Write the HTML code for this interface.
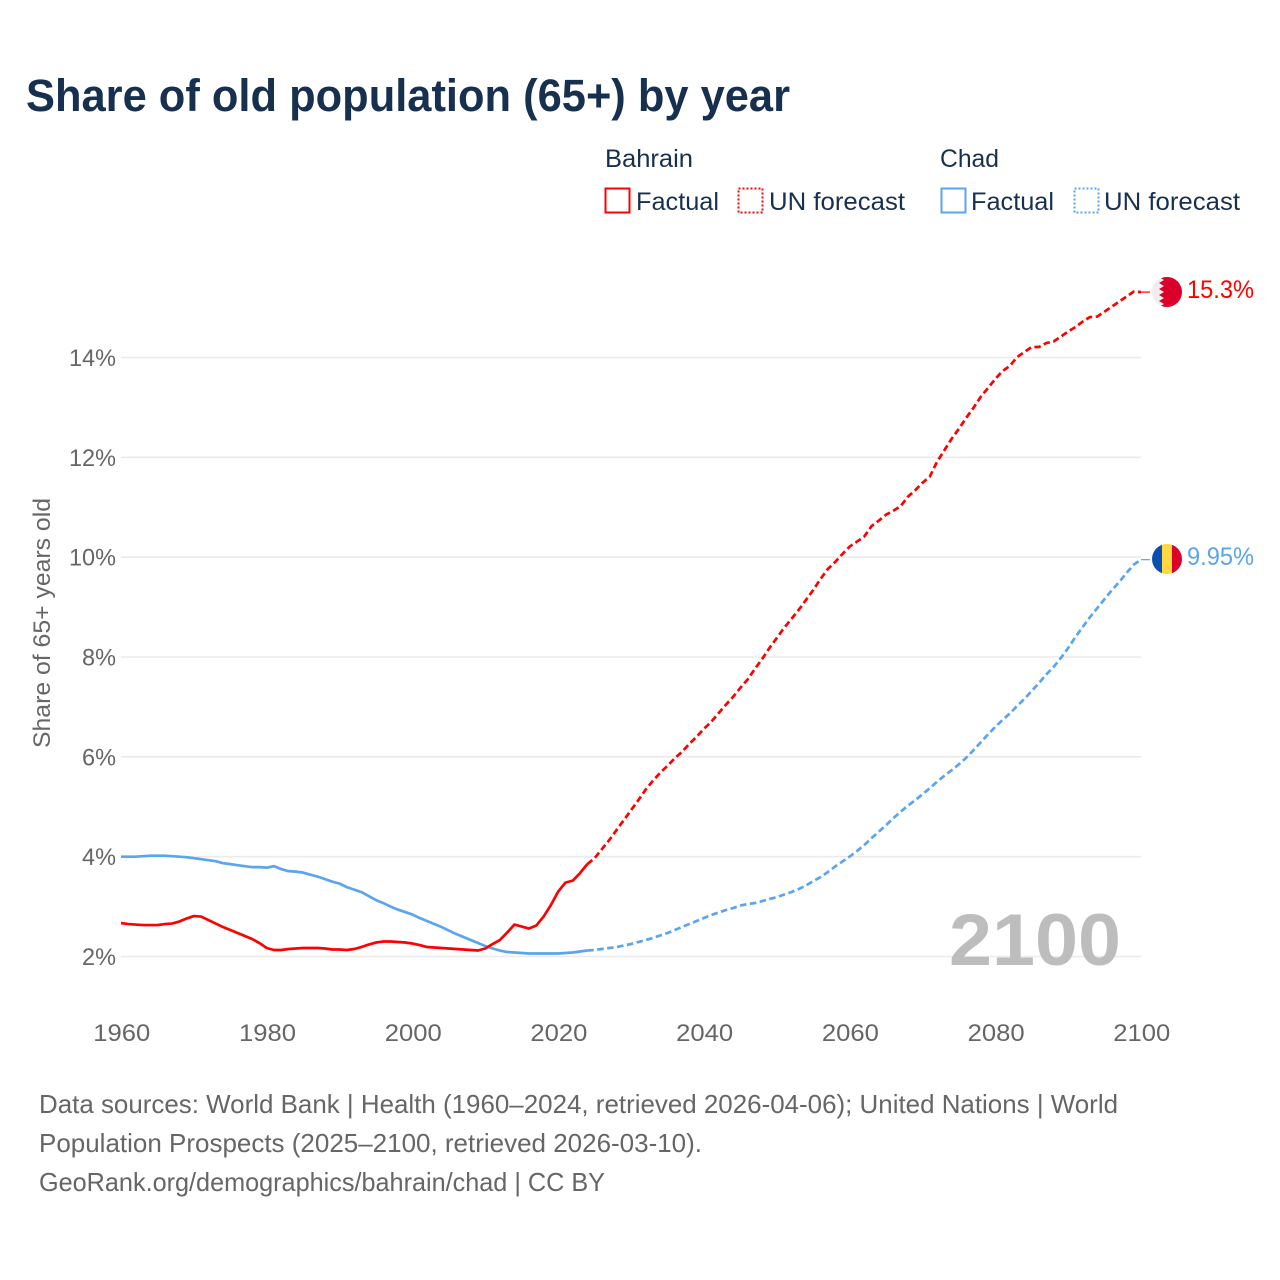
<!DOCTYPE html>
<html lang="en">
<head>
<meta charset="utf-8">
<title>Share of old population (65+) by year</title>
<style>
html,body{margin:0;padding:0;background:#fff;width:1280px;height:1280px;overflow:hidden}
svg{display:block}
text{font-family:"Liberation Sans",sans-serif}
</style>
</head>
<body>
<svg id="chart" xmlns="http://www.w3.org/2000/svg" width="1280" height="1280" viewBox="0 0 1280 1280">
  <rect width="1280" height="1280" fill="#fff"/>
  <text x="26" y="111" font-size="45" font-weight="700" fill="#18304f" textLength="764" lengthAdjust="spacingAndGlyphs">Share of old population (65+) by year</text>

  <g font-size="25" fill="#18304f">
    <text x="605" y="167" textLength="88" lengthAdjust="spacingAndGlyphs">Bahrain</text>
    <text x="940" y="167" textLength="59" lengthAdjust="spacingAndGlyphs">Chad</text>
    <rect x="605.5" y="188.5" width="24" height="24" fill="none" stroke="#ff0000" stroke-width="2"/>
    <text x="636" y="210" textLength="83" lengthAdjust="spacingAndGlyphs">Factual</text>
    <rect x="738.5" y="188.5" width="24" height="24" fill="none" stroke="#ff0000" stroke-width="2" stroke-dasharray="2 2"/>
    <text x="769" y="210" textLength="136" lengthAdjust="spacingAndGlyphs">UN forecast</text>
    <rect x="941.5" y="188.5" width="24" height="24" fill="none" stroke="#5ba4ee" stroke-width="2"/>
    <text x="971" y="210" textLength="83" lengthAdjust="spacingAndGlyphs">Factual</text>
    <rect x="1074.5" y="188.5" width="24" height="24" fill="none" stroke="#5ba4ee" stroke-width="2" stroke-dasharray="2 2"/>
    <text x="1104" y="210" textLength="136" lengthAdjust="spacingAndGlyphs">UN forecast</text>
  </g>

  <g id="grid"></g>
  <g id="yticks"></g>
  <g id="xticks"></g>
  <text transform="translate(50,748) rotate(-90)" font-size="24" fill="#666" textLength="250" lengthAdjust="spacingAndGlyphs">Share of 65+ years old</text>
  <text x="949" y="965" font-size="73" font-weight="700" fill="#bdbdbd" textLength="172" lengthAdjust="spacingAndGlyphs">2100</text>
  <g id="series"></g>

  <defs>
    <clipPath id="flag-clip-bahrain"><circle cx="1167" cy="292" r="15"/></clipPath>
    <clipPath id="flag-clip-chad"><circle cx="1167" cy="559" r="15"/></clipPath>
  </defs>
  <g clip-path="url(#flag-clip-bahrain)">
    <rect x="1152" y="277" width="30" height="30" fill="#eeeeee"/>
    <polygon points="1159,277 1182,277 1182,307 1159,307 1164,304 1159,301 1164,298 1159,295 1164,292 1159,289 1164,286 1159,283 1164,280" fill="#da0029"/>
  </g>
  <g clip-path="url(#flag-clip-chad)">
    <rect x="1152" y="544" width="10" height="30" fill="#0b4fb0"/>
    <rect x="1162" y="544" width="10" height="30" fill="#ffd83d"/>
    <rect x="1172" y="544" width="10" height="30" fill="#da0029"/>
  </g>
  <text id="label-bahrain" x="1187" y="298" font-size="25" fill="#ff0000" textLength="67" lengthAdjust="spacingAndGlyphs">15.3%</text>
  <text id="label-chad" x="1187" y="565" font-size="25" fill="#5ba4ee" textLength="67" lengthAdjust="spacingAndGlyphs">9.95%</text>

  <g font-size="26" fill="#666">
    <text x="39" y="1113" textLength="1079" lengthAdjust="spacingAndGlyphs">Data sources: World Bank | Health (1960–2024, retrieved 2026-04-06); United Nations | World</text>
    <text x="39" y="1152" textLength="663" lengthAdjust="spacingAndGlyphs">Population Prospects (2025–2100, retrieved 2026-03-10).</text>
    <text x="39" y="1191" textLength="566" lengthAdjust="spacingAndGlyphs">GeoRank.org/demographics/bahrain/chad | CC BY</text>
  </g>
</svg>
<script>
const yTicks = [2, 4, 6, 8, 10, 12, 14];
const xTicks = [1960, 1980, 2000, 2020, 2040, 2060, 2080, 2100];
const factualStartYear = 1960;
const forecastStartYear = 2024;
const bahrainFactual = [2.67,2.65,2.64,2.63,2.63,2.63,2.65,2.66,2.70,2.76,2.81,2.80,2.73,2.66,2.59,2.53,2.47,2.41,2.35,2.27,2.17,2.13,2.13,2.15,2.16,2.17,2.17,2.17,2.16,2.14,2.14,2.13,2.15,2.19,2.24,2.28,2.30,2.30,2.29,2.28,2.26,2.23,2.19,2.18,2.17,2.16,2.15,2.14,2.13,2.12,2.16,2.25,2.33,2.48,2.64,2.60,2.56,2.62,2.80,3.03,3.30,3.48,3.52,3.67,3.85];
const bahrainForecast = [3.85,3.97,4.15,4.33,4.53,4.73,4.93,5.13,5.34,5.52,5.68,5.82,5.97,6.10,6.26,6.40,6.56,6.70,6.87,7.04,7.20,7.38,7.55,7.76,7.96,8.18,8.38,8.58,8.76,8.94,9.14,9.34,9.56,9.76,9.90,10.06,10.21,10.31,10.41,10.62,10.73,10.85,10.93,11.02,11.21,11.34,11.49,11.61,11.91,12.14,12.37,12.57,12.79,12.99,13.21,13.39,13.57,13.73,13.83,14.01,14.11,14.21,14.21,14.29,14.32,14.42,14.52,14.61,14.72,14.81,14.82,14.92,15.02,15.12,15.22,15.32,15.31];
const chadFactual = [4.00,4.00,4.00,4.01,4.02,4.02,4.02,4.01,4.00,3.99,3.97,3.95,3.93,3.91,3.87,3.85,3.83,3.81,3.79,3.79,3.78,3.81,3.75,3.71,3.70,3.68,3.64,3.60,3.55,3.50,3.46,3.39,3.34,3.29,3.21,3.13,3.07,3.00,2.94,2.89,2.84,2.77,2.71,2.65,2.59,2.52,2.45,2.39,2.33,2.27,2.21,2.16,2.12,2.09,2.08,2.07,2.06,2.06,2.06,2.06,2.06,2.07,2.08,2.10,2.12];
const chadForecast = [2.12,2.13,2.15,2.17,2.19,2.22,2.25,2.29,2.33,2.37,2.42,2.47,2.53,2.59,2.65,2.71,2.77,2.83,2.88,2.93,2.97,3.02,3.05,3.07,3.11,3.15,3.19,3.24,3.29,3.35,3.42,3.51,3.59,3.69,3.80,3.90,4.00,4.11,4.23,4.37,4.50,4.63,4.77,4.90,5.02,5.13,5.25,5.37,5.50,5.62,5.73,5.85,5.98,6.13,6.29,6.45,6.60,6.74,6.87,7.02,7.16,7.32,7.48,7.65,7.80,7.98,8.18,8.40,8.60,8.80,8.98,9.16,9.34,9.50,9.68,9.85,9.95];

const NS = 'http://www.w3.org/2000/svg';
function xScale(year) { return 121 + (year - 1960) * (1020 / 140); }
function yScale(v) { return 956.5 - (v - 2) * (599 / 12); }
function linePath(values, startYear) {
  return values.map(function (v, i) {
    return (i ? 'L' : 'M') + xScale(startYear + i).toFixed(2) + ' ' + yScale(v).toFixed(2);
  }).join(' ');
}
const gridLayer = document.getElementById('grid');
const yLayer = document.getElementById('yticks');
const xLayer = document.getElementById('xticks');
const seriesLayer = document.getElementById('series');

yTicks.forEach(function (t) {
  const line = document.createElementNS(NS, 'line');
  
  
  line.setAttribute('x1', 121);
  line.setAttribute('x2', 1141);
  line.setAttribute('y1', yScale(t));
  line.setAttribute('y2', yScale(t));
  line.setAttribute('stroke', '#ebebeb');
  line.setAttribute('stroke-width', 1.6);
  gridLayer.appendChild(line);

  const label = document.createElementNS(NS, 'text');
  
  
  label.setAttribute('x', 116);
  label.setAttribute('y', yScale(t) + 8.5);
  label.setAttribute('text-anchor', 'end');
  label.setAttribute('font-size', 24);
  label.setAttribute('fill', '#666');
  label.setAttribute('textLength', t >= 10 ? 47 : 34);
  label.setAttribute('lengthAdjust', 'spacingAndGlyphs');
  label.textContent = t + '%';
  yLayer.appendChild(label);
});

xTicks.forEach(function (t) {
  const label = document.createElementNS(NS, 'text');
  
  
  label.setAttribute('x', xScale(t) + 0.8);
  label.setAttribute('y', 1041);
  label.setAttribute('text-anchor', 'middle');
  label.setAttribute('font-size', 24);
  label.setAttribute('fill', '#666');
  label.setAttribute('textLength', 57);
  label.setAttribute('lengthAdjust', 'spacingAndGlyphs');
  label.textContent = t;
  xLayer.appendChild(label);
});

function drawLine(values, startYear, colour, dashed, name) {
  const path = document.createElementNS(NS, 'path');
  
  
  path.setAttribute('d', linePath(values, startYear));
  path.setAttribute('fill', 'none');
  path.setAttribute('stroke', colour);
  path.setAttribute('stroke-width', 2.7);
  path.setAttribute('stroke-linejoin', 'round');
  if (dashed) path.setAttribute('stroke-dasharray', '6.5 3.5');
  seriesLayer.appendChild(path);
}
function drawLeader(value, colour, name) {
  const line = document.createElementNS(NS, 'line');
  
  
  line.setAttribute('x1', xScale(2100));
  line.setAttribute('x2', 1150);
  line.setAttribute('y1', yScale(value));
  line.setAttribute('y2', yScale(value));
  line.setAttribute('stroke', colour);
  line.setAttribute('stroke-width', 1.2);
  seriesLayer.appendChild(line);
}
drawLine(chadFactual, factualStartYear, '#5ba4ee', false, 'chad-factual-line');
drawLine(chadForecast, forecastStartYear, '#5ba4ee', true, 'chad-forecast-line');
drawLine(bahrainFactual, factualStartYear, '#ff0000', false, 'bahrain-factual-line');
drawLine(bahrainForecast, forecastStartYear, '#ff0000', true, 'bahrain-forecast-line');
drawLeader(bahrainForecast[bahrainForecast.length - 1], '#ff0000', 'bahrain-leader-line');
drawLeader(chadForecast[chadForecast.length - 1], '#5ba4ee', 'chad-leader-line');
</script>
</body>
</html>
